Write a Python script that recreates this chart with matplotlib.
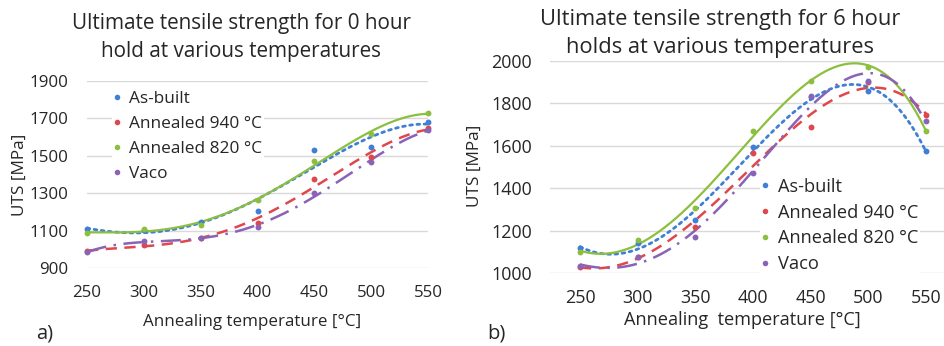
import numpy as np
import matplotlib
matplotlib.use("Agg")
import matplotlib.pyplot as plt
from matplotlib.lines import Line2D

plt.rcParams['font.family'] = ['Open Sans', 'DejaVu Sans']

temps = [250, 300, 350, 400, 450, 500, 550]
series_names = ["As-built", "Annealed 940 °C", "Annealed 820 °C", "Vaco"]

# Panel a) 0 hour hold
a_asbuilt = [1108, 1103, 1148, 1204, 1531, 1548, 1681]
a_ann940 = [989, 1024, 1060, 1140, 1374, 1495, 1646]
a_ann820 = [1087, 1109, 1131, 1264, 1472, 1614, 1729]
a_vaco = [983, 1042, 1060, 1118, 1300, 1468, 1637]

# Panel b) 6 hour holds
b_asbuilt = [1118, 1145, 1250, 1597, 1832, 1860, 1578]
b_ann940 = [1028, 1078, 1217, 1568, 1688, 1903, 1746]
b_ann820 = [1102, 1157, 1309, 1670, 1906, 1973, 1672]
b_vaco = [1034, 1075, 1170, 1471, 1837, 1906, 1719]

colors = ['#3f7fd6', '#e0474c', '#8cbf3f', '#8a62b6']
styles = [(0, (1, 1.6)), (0, (4.5, 3)), '-', (0, (8, 3, 1, 3))]
widths = [2.0, 1.8, 1.6, 1.8]
TXT = '#262626'

fig = plt.figure(figsize=(9.44, 3.46), dpi=100)
W, H = 944, 346
renderer = fig.canvas.get_renderer()


def size_for(text, target_px, rotation=0):
    """font size (pt) at which `text` spans target_px pixels"""
    t = fig.text(0, 0, text, fontsize=20, rotation=rotation)
    ext = t.get_window_extent(renderer)
    span = ext.height if rotation else ext.width
    t.remove()
    return 20 * target_px / span


def add_axes_px(x0, x1, ytop, ybot):
    return fig.add_axes([x0 / W, 1 - ybot / H, (x1 - x0) / W, (ybot - ytop) / H])


def draw_panel(ax, data, order, xlim, ylim, yticks, fsize, xpad, ypad):
    ax.set_xlim(*xlim)
    ax.set_ylim(*ylim)
    ax.set_yticks(yticks)
    ax.set_xticks(temps)
    for s in ax.spines.values():
        s.set_visible(False)
    ax.grid(axis='y', color='#d9d9d9', lw=1.0)
    ax.set_axisbelow(True)
    ax.tick_params(length=0, labelsize=fsize, colors=TXT)
    ax.tick_params(axis='x', pad=xpad)
    ax.tick_params(axis='y', pad=ypad)
    xs = np.linspace(temps[0], temps[-1], 300)
    for vals, c, ls, lw in zip(data, colors, styles, widths):
        coef = np.polyfit(temps, vals, order)
        ax.plot(xs, np.polyval(coef, xs), color=c, ls=ls, lw=lw, clip_on=False,
                dash_capstyle='round' if ls == (0, (1, 1.6)) else 'butt')
        ax.scatter(temps, vals, s=18, color=c, zorder=3, clip_on=False, linewidths=0)


# Panel a
axa = add_axes_px(87, 428, 81, 268)
draw_panel(axa, [a_asbuilt, a_ann940, a_ann820, a_vaco], 4, (250, 550), (900, 1900),
           range(900, 1901, 200), size_for("1900", 38.5), 12.5, 13.5)
# Panel b
axb = add_axes_px(550, 956, 61, 273.3)
draw_panel(axb, [b_asbuilt, b_ann940, b_ann820, b_vaco], 4, (224, 576), (1000, 2000),
           range(1000, 2001, 200), size_for("2000", 41), 11.5, 13)

handles = [Line2D([], [], ls='none', marker='o', ms=4, color=c, mew=0) for c in colors]


def legend_at(ax, x, y, fs, row_px):
    fs_px = fs * 100 / 72
    spacing = max(0.0, (row_px - 0.93 * fs_px) / fs_px)
    leg = ax.legend(handles, series_names, loc='upper left',
                    bbox_to_anchor=(x / W, 1 - y / H), bbox_transform=fig.transFigure,
                    frameon=True, facecolor='white', edgecolor='none', framealpha=1,
                    fontsize=fs, handlelength=0.4, handletextpad=0.5,
                    labelspacing=spacing, borderpad=0.1, borderaxespad=0)
    for t in leg.get_texts():
        t.set_color(TXT)
    return leg


legend_at(axa, 112, 89, size_for("Annealed 940 °C", 133), 25)
legend_at(axb, 760, 176, size_for("Annealed 940 °C", 140), 24.7)

# Titles (two lines each)
ts_a = size_for("Ultimate tensile strength for 0 hour", 339)
fig.text(241 / W, 1 - 23 / H, "Ultimate tensile strength for 0 hour",
         ha='center', va='center', fontsize=ts_a, color=TXT)
fig.text(241 / W, 1 - 52 / H, "hold at various temperatures",
         ha='center', va='center', fontsize=ts_a, color=TXT)
ts_b = size_for("Ultimate tensile strength for 6 hour", 360)
fig.text(720 / W, 1 - 19 / H, "Ultimate tensile strength for 6 hour",
         ha='center', va='center', fontsize=ts_b, color=TXT)
fig.text(720 / W, 1 - 47 / H, "holds at various temperatures",
         ha='center', va='center', fontsize=ts_b, color=TXT)

# Axis labels
yl = size_for("UTS [MPa]", 82, rotation=90)
fig.text(20 / W, 1 - 175 / H, "UTS [MPa]", rotation=90, ha='center', va='center',
         fontsize=yl, color=TXT)
fig.text(475 / W, 1 - 166 / H, "UTS [MPa]", rotation=90, ha='center', va='center',
         fontsize=yl, color=TXT)
fig.text(252 / W, 1 - 322 / H, "Annealing temperature [°C]", ha='center', va='center',
         fontsize=size_for("Annealing temperature [°C]", 218), color=TXT)
fig.text(742 / W, 1 - 320 / H, "Annealing  temperature [°C]", ha='center', va='center',
         fontsize=size_for("Annealing  temperature [°C]", 237), color=TXT)

fig.text(45 / W, 1 - 333 / H, "a)", ha='center', va='center', fontsize=14.5, color=TXT)
fig.text(496 / W, 1 - 333 / H, "b)", ha='center', va='center', fontsize=14.5, color=TXT)

fig.savefig("out.png", dpi=100, facecolor='white')
